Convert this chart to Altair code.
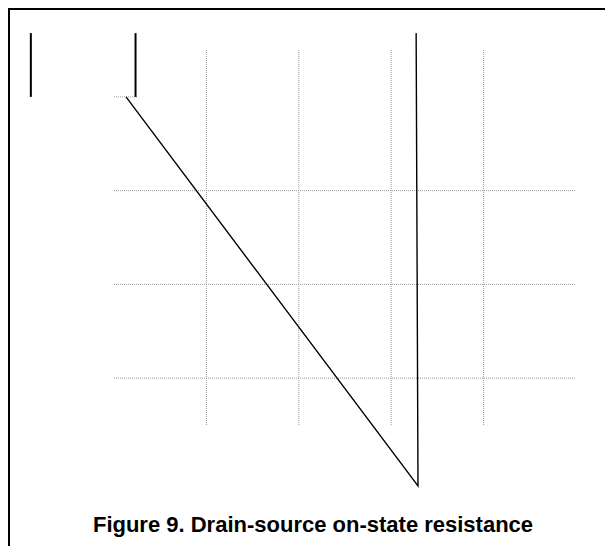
import altair as alt
import pandas as pd

# ---- data ----
title_text = "Figure 9. Drain-source on-state resistance"

grid_x = [1, 2, 3, 4]            # vertical dotted grid lines
grid_y = [1, 2, 3]               # full horizontal dotted grid lines
grid_top_y = [4]                 # partial top grid line
grid_top_x0 = [0.0]
grid_top_x1 = [0.26]

curve_x = [0.13, 3.29, 3.27]     # main trace
curve_y = [4.00, -0.15, 4.68]

stub_x = [-0.90, 0.233]          # short vertical strokes top-left
stub_y0 = [4.00, 4.00]
stub_y1 = [4.68, 4.68]

X_DOMAIN = [0, 5]
Y_DOMAIN = [0.5, 4.5]

xs = alt.Scale(domain=X_DOMAIN, nice=False, zero=False)
ys = alt.Scale(domain=Y_DOMAIN, nice=False, zero=False)

grid_col = "#9a9a9a"

vgrid = alt.Chart(pd.DataFrame({"x": grid_x, "y0": [Y_DOMAIN[0]] * len(grid_x),
                                "y1": [Y_DOMAIN[1]] * len(grid_x)})).mark_rule(
    color=grid_col, strokeDash=[1, 1], strokeWidth=1).encode(
    x=alt.X("x:Q", scale=xs, axis=None),
    y=alt.Y("y0:Q", scale=ys, axis=None),
    y2="y1:Q")

hgrid = alt.Chart(pd.DataFrame({"y": grid_y, "x0": [X_DOMAIN[0]] * len(grid_y),
                                "x1": [X_DOMAIN[1]] * len(grid_y)})).mark_rule(
    color=grid_col, strokeDash=[1, 1], strokeWidth=1).encode(
    y=alt.Y("y:Q", scale=ys, axis=None),
    x=alt.X("x0:Q", scale=xs, axis=None),
    x2="x1:Q")

hgrid_top = alt.Chart(pd.DataFrame({"y": grid_top_y, "x0": grid_top_x0,
                                    "x1": grid_top_x1})).mark_rule(
    color=grid_col, strokeDash=[1, 1], strokeWidth=1).encode(
    y=alt.Y("y:Q", scale=ys, axis=None),
    x=alt.X("x0:Q", scale=xs, axis=None),
    x2="x1:Q")

curve = alt.Chart(pd.DataFrame({"x": curve_x, "y": curve_y,
                                "o": list(range(len(curve_x)))})).mark_line(
    color="black", strokeWidth=1.4).encode(
    x=alt.X("x:Q", scale=xs, axis=None),
    y=alt.Y("y:Q", scale=ys, axis=None),
    order="o:O")

stubs = alt.Chart(pd.DataFrame({"x": stub_x, "y0": stub_y0, "y1": stub_y1})).mark_rule(
    color="black", strokeWidth=2).encode(
    x=alt.X("x:Q", scale=xs, axis=None),
    y=alt.Y("y0:Q", scale=ys, axis=None),
    y2="y1:Q")

one = pd.DataFrame({"t": [title_text]})
border_top = alt.Chart(one).mark_rule(color="black", strokeWidth=2).encode(
    x=alt.value(-106), x2=alt.value(500), y=alt.value(-41))
border_left = alt.Chart(one).mark_rule(color="black", strokeWidth=2).encode(
    x=alt.value(-105), y=alt.value(-42), y2=alt.value(540))

title = alt.Chart(one).mark_text(
    font="Liberation Sans", fontWeight="bold", fontSize=22, align="center",
    baseline="alphabetic", color="black").encode(
    x=alt.value(199), y=alt.value(482), text="t:N")

chart = alt.layer(vgrid, hgrid, hgrid_top, curve, stubs, border_top, border_left, title).properties(
    width=462, height=375,
    autosize=alt.AutoSizeParams(type="none"),
    padding={"left": 106, "top": 42, "right": 29, "bottom": 121},
    background="white",
).configure_view(stroke="transparent", strokeWidth=0)

chart.save("out.html", embed_options={"renderer": "svg", "actions": False})
